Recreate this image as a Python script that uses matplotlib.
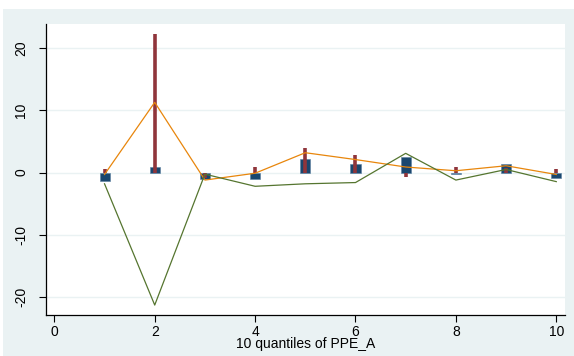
import matplotlib
matplotlib.use("Agg")
import matplotlib.pyplot as plt
from matplotlib.patches import Rectangle

# Data
quantiles = [1, 2, 3, 4, 5, 6, 7, 8, 9, 10]
bar_mean = [-1.3, 0.95, -1.05, -1.05, 2.25, 1.4, 2.5, -0.2, 1.45, -0.9]
spike_val = [0.55, 22.3, -0.8, 0.95, 4.0, 2.85, -0.75, 0.95, 0.8, 0.55]
upper_line = [-0.3, 11.3, -1.2, -0.1, 3.2, 2.1, 0.9, 0.3, 1.1, -0.3]
lower_line = [-1.8, -21.3, -0.25, -2.2, -1.8, -1.6, 3.1, -1.2, 0.5, -1.45]
xticks = [0, 2, 4, 6, 8, 10]
yticks = [-20, -10, 0, 10, 20]
xlabel = "10 quantiles of PPE_A"

NAVY = "#1a476f"
MAROON = "#90353b"
ORANGE = "#e8860c"
GREEN = "#55752f"
BG = "#eaf2f3"

plt.rcParams["font.family"] = ["Liberation Sans", "DejaVu Sans"]

fig = plt.figure(figsize=(5.74, 3.56), dpi=100)
fig.patch.set_facecolor("white")
bgrect = Rectangle((3 / 574, 0), 1, (356 - 9) / 356,
                   transform=fig.transFigure, facecolor=BG,
                   edgecolor="none", zorder=-10)
fig.add_artist(bgrect)

ax = fig.add_axes([46.3 / 574, 1 - 315 / 356, (565.3 - 46.3) / 574, (315 - 24) / 356])
ax.set_zorder(5)
ax.set_facecolor("white")

for y in yticks:
    ax.axhline(y, color=BG, lw=1.0, zorder=1)

ax.bar(quantiles, bar_mean, width=0.2, color=NAVY, edgecolor="#5a7fa0",
       linewidth=0.4, zorder=2)
ax.vlines(quantiles, 0, spike_val, color=MAROON, lw=2.6, zorder=3,
          capstyle="butt")
ax.plot(quantiles, upper_line, color=ORANGE, lw=0.9, zorder=4)
ax.plot(quantiles, lower_line, color=GREEN, lw=0.9, zorder=4)

ax.set_xlim(-0.16, 10.18)
ax.set_ylim(-22.9, 23.9)
ax.set_xticks(xticks)
ax.set_yticks(yticks)
ax.set_yticklabels([str(v) for v in yticks], rotation=90, va="center")
ax.tick_params(axis="both", direction="out", length=5, width=0.8,
               labelsize=10, color="black", labelcolor="black")
ax.tick_params(axis="y", pad=8)
ax.tick_params(axis="x", pad=2)
for s in ["top", "right"]:
    ax.spines[s].set_visible(False)
for s in ["left", "bottom"]:
    ax.spines[s].set_linewidth(0.9)
ax.set_xlabel(xlabel, fontsize=10, labelpad=-1)

fig.savefig("out.png", dpi=100, facecolor=fig.get_facecolor())
